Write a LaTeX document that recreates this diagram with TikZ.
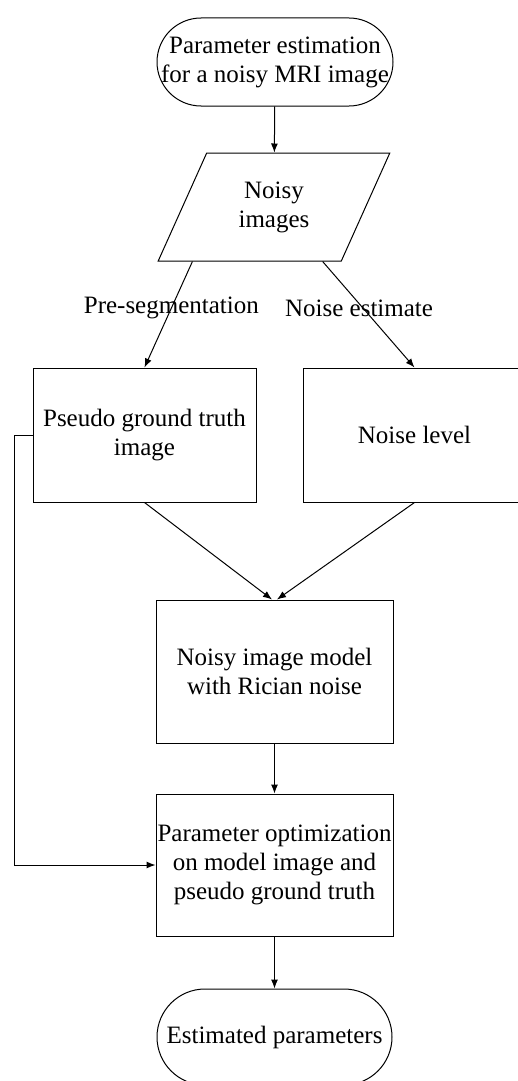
\documentclass[tikz,border=0pt]{standalone}
\usepackage{fontspec}
\setmainfont{Liberation Serif}
\usetikzlibrary{shapes.geometric}
\usetikzlibrary{arrows.meta}

\begin{document}
\begin{tikzpicture}[x=1pt,y=-1pt,line width=1pt,
	>={Latex[length=9pt,width=7pt]},
	every node/.style={font=\fontsize{25}{29}\selectfont,align=center,inner sep=0pt},
	box/.style={draw,rectangle,minimum width=223pt,minimum height=134pt},
	term/.style={draw,rectangle,rounded corners=44pt,minimum width=236pt,minimum height=88pt},
	data/.style={draw,trapezium,trapezium left angle=63.4,trapezium right angle=116.6,
		trapezium stretches=true,minimum width=232pt,minimum height=108pt}]
			\useasboundingbox (0,0) rectangle (517,1081);
			\node[term] (start) at (275,62) {Parameter estimation\\for a noisy MRI image};
			\node[data] (noisy) at (274,207) {Noisy\\images};
			\node[box] (pseudo) at (144.5,435) {Pseudo ground truth\\image};
			\node[box] (level) at (414.5,435) {Noise level};
			\node[box,minimum width=237pt,minimum height=143pt] (model) at (274.5,671.5) {Noisy image model\\with Rician noise};
			\node[box,minimum width=237pt,minimum height=142pt] (opt) at (274.5,865) {Parameter optimization\\on model image and\\pseudo ground truth};
			\node[term,rounded corners=48pt,minimum width=235pt,minimum height=96pt] (result) at (274.5,1037) {Estimated parameters};
			\draw [->] (start)--(noisy);
			\draw [->] ([xshift=35pt]noisy.bottom left corner)--(pseudo.north) node[pos=0.44] {Pre-segmentation};
			\draw [->] ([xshift=-19pt]noisy.bottom right corner)--(level.north) node[pos=0.44,xshift=-4pt] {Noise estimate};
			\draw [->] (pseudo.south)--([xshift=-2.5pt]model.north);
			\draw [->] (level.south)--([xshift=2.5pt]model.north);
			\draw [->] (model)--(opt);
			\draw [->] (pseudo.west)--++(-18,0)|-(opt.west);
			\draw [->] (opt)--(result);
			\end{tikzpicture}
\end{document}
